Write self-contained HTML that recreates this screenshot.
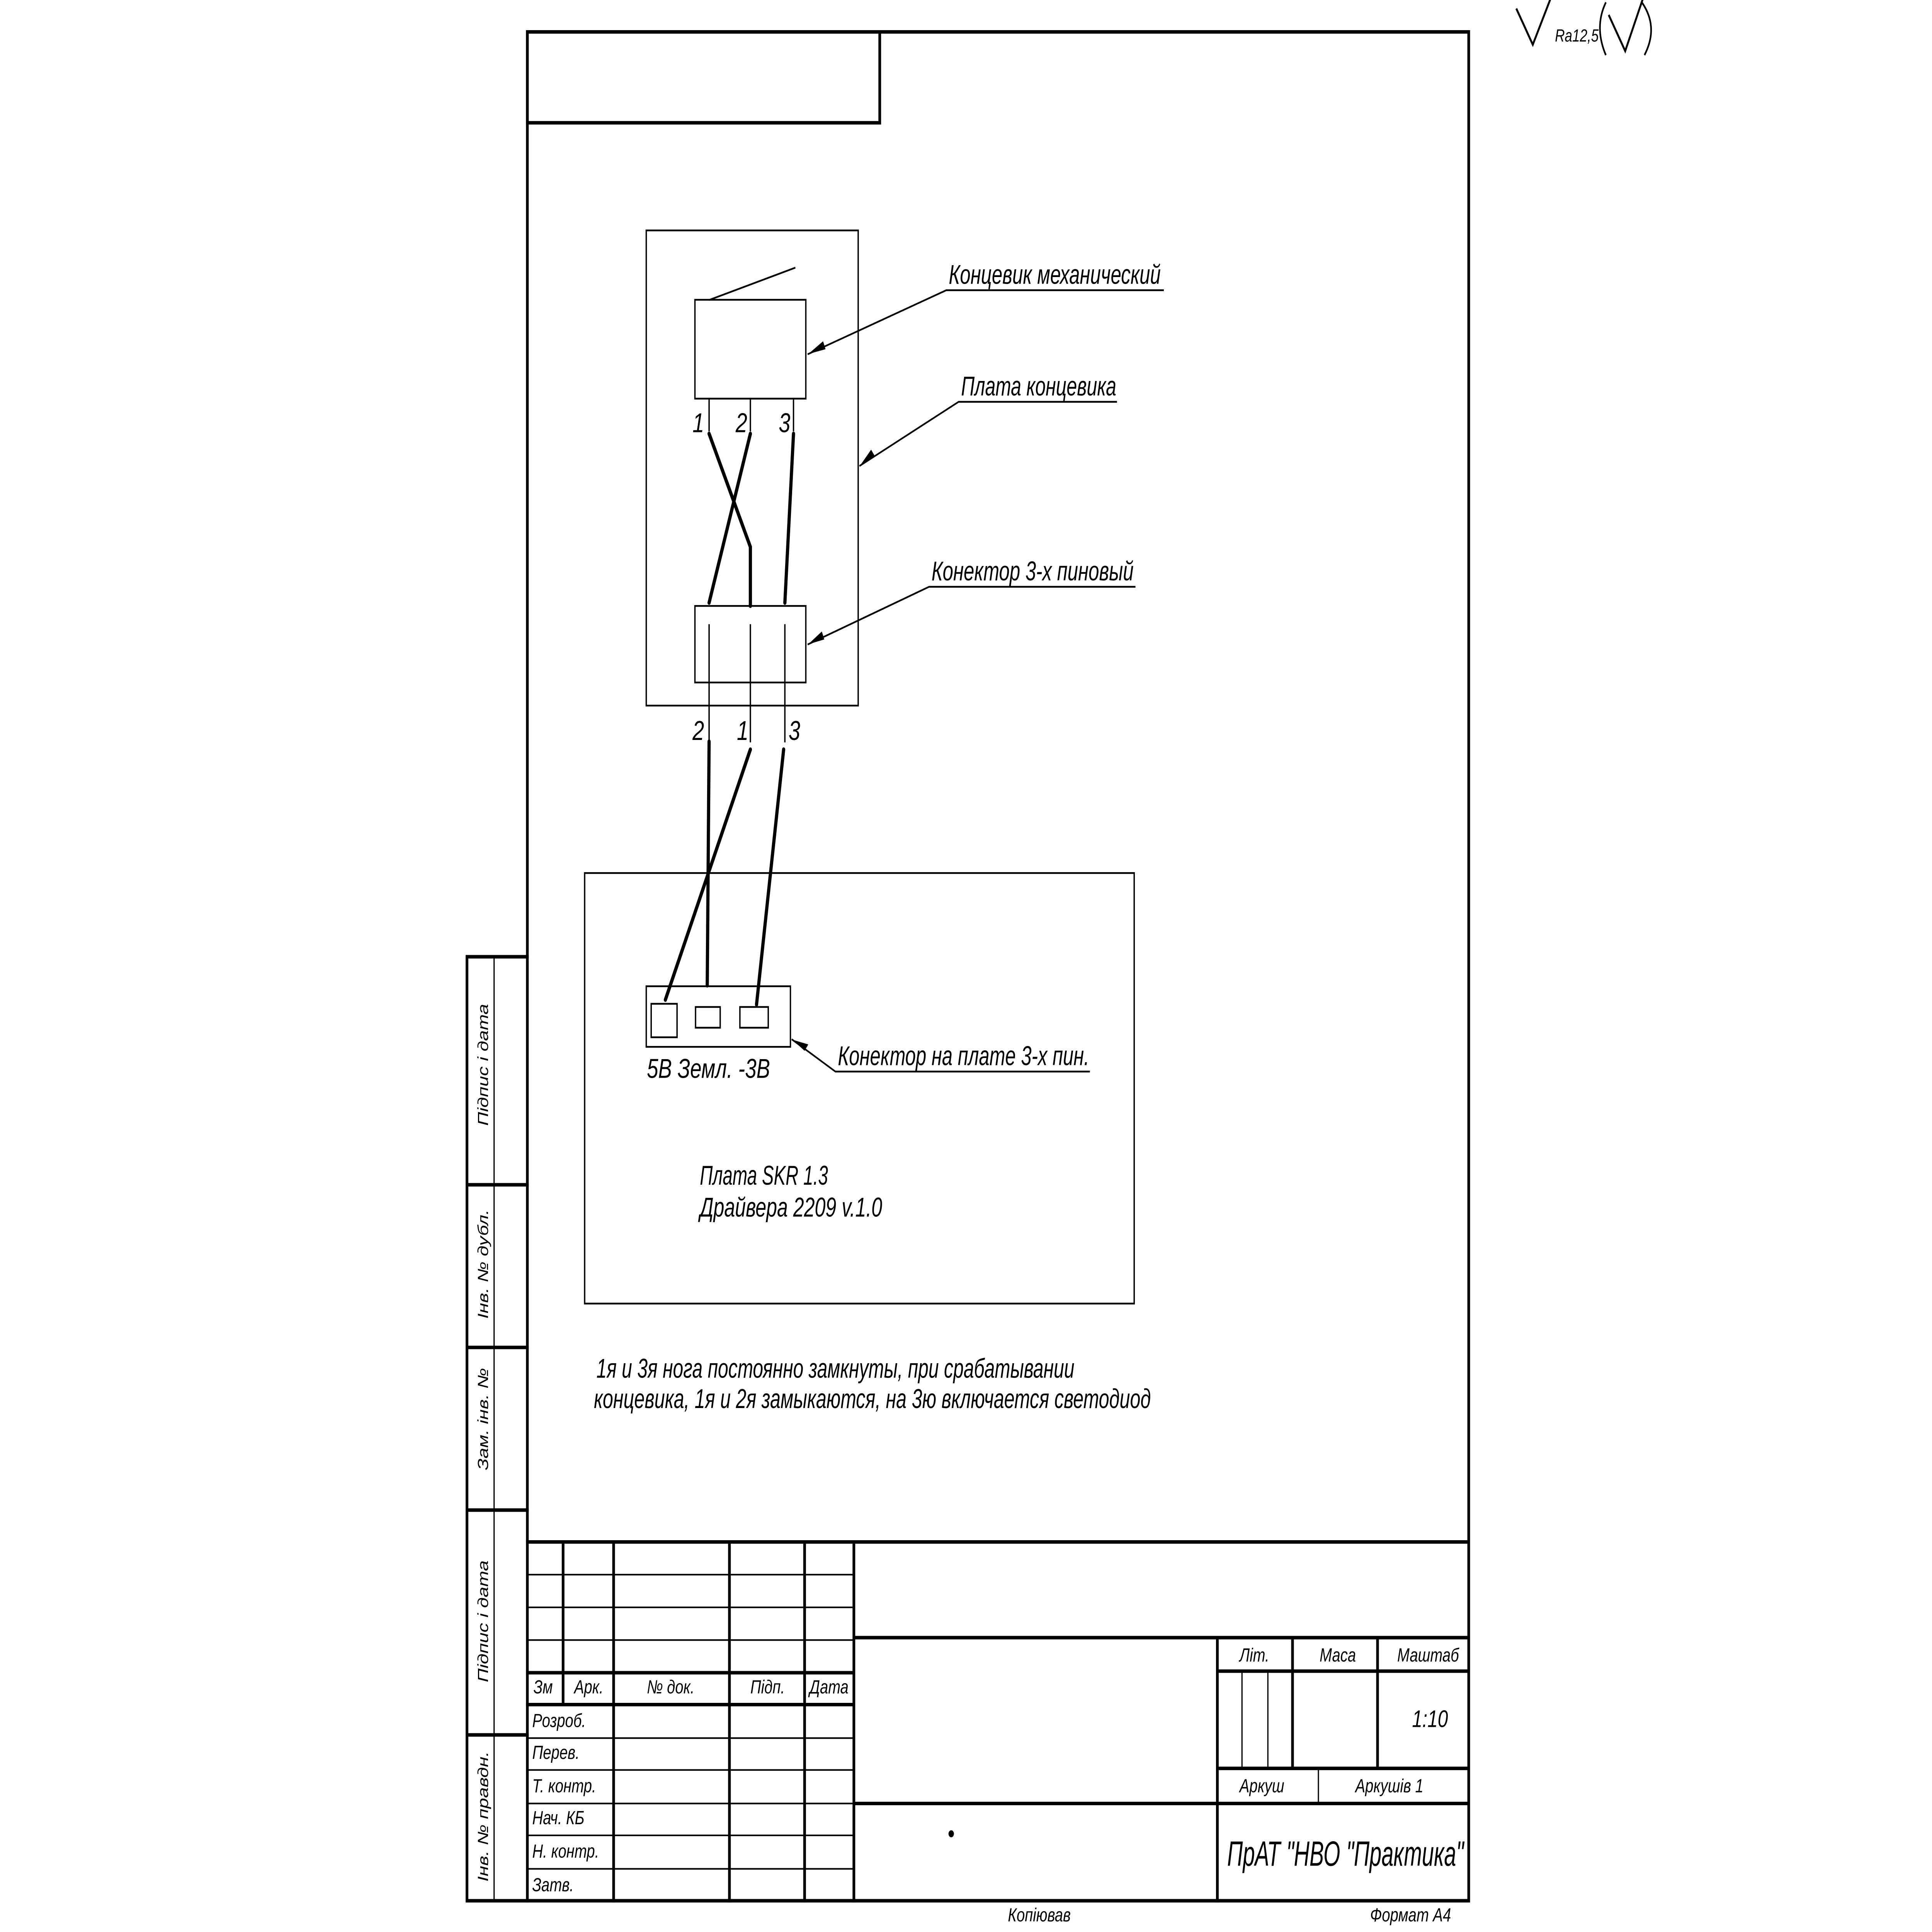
<!DOCTYPE html>
<html><head><meta charset="utf-8"><style>
html,body{margin:0;padding:0;background:#fff;width:100vw;height:100vh;overflow:hidden}
svg{display:block;position:absolute;left:0;top:0;width:100vw;height:100vh}
text{font-family:"Liberation Sans","DejaVu Sans",sans-serif;font-style:italic;fill:#000}
</style></head><body>
<svg viewBox="0 0 1568 1211.6" preserveAspectRatio="none" xmlns="http://www.w3.org/2000/svg">
<rect width="1568" height="1212" fill="#fff"/>
<g fill="none" stroke="#000" stroke-linecap="square">
<rect x="428" y="20" width="764" height="1172" stroke-width="2.2"/>
<rect x="428" y="20" width="286" height="57" stroke-width="2.2"/>
<path d="M428 600H379V1192H428M379 743H428M379 845H428M379 947H428M379 1088H428" stroke-width="2.2"/>
<path d="M401 600V1192" stroke-width="1"/>
<path d="M428 967H1192M457 967V1069M498 967V1192M592 967V1192M653 967V1192M693 967V1192M428 1049H693M428 1069H693M693 1027H1192M693 1131H1192M988 1027V1192M1049 1027V1109M1118 1027V1109M988 1048H1192M988 1109H1192" stroke-width="2.2"/>
<path d="M428 987.5H693M428 1008H693M428 1028.5H693M428 1090H693M428 1110H693M428 1131H693M428 1151H693M428 1172H693M1008 1048V1109M1029 1048V1109M1070 1109V1130" stroke-width="1"/>
<g stroke-width="1.1">
<rect x="524.5" y="144.5" width="172" height="298"/>
<rect x="564" y="188" width="90" height="62"/>
<path d="M576 188L645 168"/>
<rect x="564" y="380" width="90" height="48"/>
<path d="M575.5 250V270M609 250V270M644 250V270"/>
<path d="M575.5 392V465M609 392V465M637 392V465"/>
<rect x="474.5" y="547.5" width="446" height="270"/>
<rect x="524.5" y="618.5" width="117" height="38"/>
<rect x="528.5" y="629.5" width="21" height="21"/>
<rect x="564.5" y="631.5" width="20" height="13"/>
<rect x="600.5" y="631.5" width="23" height="13"/>
</g>
<g stroke-width="2.6" stroke-linecap="round">
<path d="M575.5 272L609 343V380"/>
<path d="M609 272L575.5 378"/>
<path d="M644 272L637 378"/>
<path d="M575.5 465L574 618"/>
<path d="M609 470L540 627"/>
<path d="M636 470L614 630"/>
</g>
<g stroke-width="1.1">
<path d="M944 182H768L656 222"/>
<path d="M906 252H778L698 292"/>
<path d="M921 368H754L656 404"/>
<path d="M884 672H678L643 652"/>
</g>
<path d="M1231 6L1244 28L1258 0" stroke-width="1.5"/>
<path d="M1306 10L1319 32L1333 0" stroke-width="1.5"/>
<path d="M1303 2Q1294 17 1303 34M1333 2Q1346 17 1335 34" stroke-width="1.3"/>
</g>
<g fill="#000">
<path d="M656 222L668 214L670 219Z"/>
<path d="M698 292L707 282L710 286Z"/>
<path d="M656 404L667 396L669 401Z"/>
<path d="M643 652L656 655L653 659Z"/>
<circle cx="772" cy="1150" r="2.2"/>
</g>
<g font-size="17">
<text x="770" y="178" textLength="172" lengthAdjust="spacingAndGlyphs">Концевик механический</text>
<text x="780" y="248" textLength="126" lengthAdjust="spacingAndGlyphs">Плата концевика</text>
<text x="756" y="364" textLength="164" lengthAdjust="spacingAndGlyphs">Конектор 3-х пиновый</text>
<text x="680" y="668" textLength="204" lengthAdjust="spacingAndGlyphs">Конектор на плате 3-х пин.</text>
<text x="562" y="271">1</text><text x="597" y="271">2</text><text x="632" y="271">3</text>
<text x="562" y="464">2</text><text x="598" y="464">1</text><text x="640" y="464">3</text>
<text x="525" y="676" textLength="100" lengthAdjust="spacingAndGlyphs">5В  Земл.  -3В</text>
<text x="568" y="743" textLength="104" lengthAdjust="spacingAndGlyphs">Плата SKR 1.3</text>
<text x="568" y="763" textLength="148" lengthAdjust="spacingAndGlyphs">Драйвера 2209 v.1.0</text>
<text x="484" y="864" textLength="388" lengthAdjust="spacingAndGlyphs">1я и 3я нога постоянно замкнуты, при срабатывании</text>
<text x="482" y="883" textLength="452" lengthAdjust="spacingAndGlyphs">концевика, 1я и 2я замыкаются, на 3ю включается светодиод</text>
<text x="996" y="1170" font-size="22" textLength="192" lengthAdjust="spacingAndGlyphs">ПрАТ "НВО "Практика"</text>
</g>
<g font-size="12">
<text x="433" y="1062">Зм</text><text x="466" y="1062">Арк.</text><text x="525" y="1062">№ док.</text><text x="609" y="1062">Підп.</text><text x="657" y="1062">Дата</text>
<text x="432" y="1083">Розроб.</text><text x="432" y="1103">Перев.</text><text x="432" y="1124">Т. контр.</text><text x="432" y="1144">Нач. КБ</text><text x="432" y="1165">Н. контр.</text><text x="432" y="1186">Затв.</text>
<text x="1006" y="1042">Літ.</text><text x="1071" y="1042">Маса</text><text x="1134" y="1042">Маштаб</text>
<text x="1146" y="1083" font-size="15">1:10</text>
<text x="1006" y="1124">Аркуш</text><text x="1100" y="1124">Аркушів 1</text>
<text x="818" y="1205">Копіював</text><text x="1112" y="1205">Формат А4</text>
<text x="1262" y="26" font-size="11">Ra12,5</text>
<text transform="translate(396 706) rotate(-90)">Підпис і дата</text>
<text transform="translate(396 827) rotate(-90)">Інв. № дубл.</text>
<text transform="translate(396 922) rotate(-90)">Зам. інв. №</text>
<text transform="translate(396 1055) rotate(-90)">Підпис і дата</text>
<text transform="translate(396 1180) rotate(-90)">Інв. № правдн.</text>
</g>
</svg>
</body></html>
